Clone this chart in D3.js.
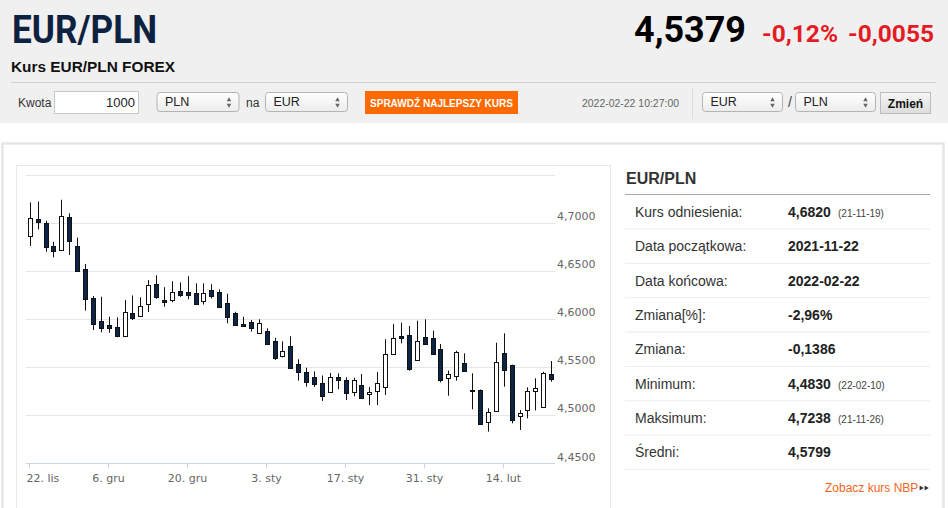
<!DOCTYPE html>
<html>
<head>
<meta charset="utf-8">
<script src="https://cdn.jsdelivr.net/npm/d3@7"></script>
<style>
  body { margin: 0; background: #fff; }
  svg { display: block; }
</style>
</head>
<body>
<svg id="page" width="948" height="508"></svg>
<script>
// trading days shown on the chart (EUR/PLN, daily candles)
const days = [
  '2021-11-22','2021-11-23','2021-11-24','2021-11-25','2021-11-26','2021-11-29','2021-11-30',
  '2021-12-01','2021-12-02','2021-12-03','2021-12-06','2021-12-07','2021-12-08','2021-12-09','2021-12-10',
  '2021-12-13','2021-12-14','2021-12-15','2021-12-16','2021-12-17','2021-12-20','2021-12-21','2021-12-22',
  '2021-12-23','2021-12-24','2021-12-27','2021-12-28','2021-12-29','2021-12-30','2021-12-31',
  '2022-01-03','2022-01-04','2022-01-05','2022-01-06','2022-01-07','2022-01-10','2022-01-11','2022-01-12',
  '2022-01-13','2022-01-14','2022-01-17','2022-01-18','2022-01-19','2022-01-20','2022-01-21','2022-01-24',
  '2022-01-25','2022-01-26','2022-01-27','2022-01-28','2022-01-31',
  '2022-02-01','2022-02-02','2022-02-03','2022-02-04','2022-02-07','2022-02-08','2022-02-09','2022-02-10',
  '2022-02-11','2022-02-14','2022-02-15','2022-02-16','2022-02-17','2022-02-18','2022-02-21','2022-02-22'
];

const opens = [
  4.6861,4.7035,4.6993,4.6761,4.6716,4.7056,4.6761,4.6516,4.6221,4.5979,
  4.5934,4.5913,4.5816,4.6059,4.6023,4.6152,4.6361,4.6195,4.6192,4.6288,
  4.6283,4.6273,4.6192,4.6301,4.6280,4.6163,4.6062,4.5951,4.5968,4.5857,
  4.5878,4.5766,4.5623,4.5719,4.5527,4.5446,4.5397,4.5338,4.5238,4.5395,
  4.5371,4.5245,4.5318,4.5218,4.5249,4.5290,4.5630,4.5826,4.5833,4.5574,
  4.5810,4.5799,4.5688,4.5384,4.5411,4.5539,4.5262,4.5265,4.4933,4.5040,
  4.5650,4.5522,4.4985,4.5054,4.5245,4.5089,4.5428
];
const highs = [
  4.7211,4.7220,4.7020,4.6802,4.7238,4.7097,4.6844,4.6571,4.6238,4.6231,
  4.6023,4.6017,4.6197,4.6244,4.6225,4.6404,4.6454,4.6330,4.6392,4.6379,
  4.6444,4.6370,4.6370,4.6361,4.6308,4.6262,4.6075,4.6023,4.5989,4.5996,
  4.5903,4.5804,4.5768,4.5820,4.5581,4.5493,4.5456,4.5413,4.5439,4.5436,
  4.5395,4.5390,4.5428,4.5293,4.5449,4.5789,4.5948,4.5961,4.5927,4.5982,
  4.5996,4.5878,4.5740,4.5463,4.5670,4.5643,4.5436,4.5268,4.5072,4.5753,
  4.5851,4.5525,4.5054,4.5290,4.5384,4.5452,4.5563
];
const lows = [
  4.6758,4.6931,4.6698,4.6640,4.6710,4.6664,4.6498,4.6086,4.5885,4.5861,
  4.5857,4.5810,4.5812,4.5989,4.6020,4.6072,4.6209,4.6127,4.6173,4.6228,
  4.6204,4.6158,4.6150,4.6212,4.6125,4.5955,4.5927,4.5926,4.5868,4.5855,
  4.5745,4.5574,4.5600,4.5488,4.5359,4.5296,4.5293,4.5148,4.5236,4.5270,
  4.5158,4.5197,4.5184,4.5106,4.5106,4.5210,4.5628,4.5747,4.5463,4.5572,
  4.5738,4.5634,4.5342,4.5203,4.5359,4.5450,4.5062,4.4899,4.4830,4.5037,
  4.5296,4.4916,4.4847,4.4968,4.5050,4.5087,4.5348
];
const closes = [
  4.7045,4.7004,4.6744,4.6709,4.7069,4.6802,4.6501,4.6207,4.5948,4.5903,
  4.5899,4.5816,4.6069,4.6007,4.6131,4.6349,4.6230,4.6178,4.6278,4.6251,
  4.6249,4.6160,4.6273,4.6240,4.6127,4.6017,4.5937,4.5930,4.5909,4.5961,
  4.5747,4.5591,4.5670,4.5493,4.5446,4.5347,4.5329,4.5205,4.5397,4.5366,
  4.5238,4.5371,4.5186,4.5241,4.5332,4.5633,4.5799,4.5810,4.5480,4.5774,
  4.5740,4.5636,4.5366,4.5425,4.5657,4.5452,4.5249,4.4916,4.5037,4.5550,
  4.5477,4.4951,4.5020,4.5252,4.5280,4.5442,4.5379
];

const tickDays = ['2021-11-22','2021-12-06','2021-12-20','2022-01-03','2022-01-17','2022-01-31','2022-02-14'];
const tickLabels = ['22. lis','6. gru','20. gru','3. sty','17. sty','31. sty','14. lut'];
const gridValues = [4.45, 4.50, 4.55, 4.60, 4.65, 4.70, 4.75];
const labelValues = [4.45, 4.50, 4.55, 4.60, 4.65, 4.70];

const statLabels = ['Kurs odniesienia:','Data początkowa:','Data końcowa:','Zmiana[%]:','Zmiana:','Minimum:','Maksimum:','Średni:'];
const statValues = ['4,6820','2021-11-22','2022-02-22','-2,96%','-0,1386','4,4830','4,7238','4,5799'];
const statDates = ['(21-11-19)','','','','','(22-02-10)','(21-11-26)',''];

const svg = d3.select('#page');
const sans = "'Liberation Sans', Arial, sans-serif";

// ---------- header ----------
svg.append('rect').attr('width', 948).attr('height', 123).attr('fill', '#f0f0f0');

svg.append('text').attr('x', 12).attr('y', 42.5)
  .attr('font-family', 'Roboto').attr('font-weight', 700).attr('font-size', 38)
  .attr('fill', '#0d2140').attr('textLength', 145).attr('lengthAdjust', 'spacingAndGlyphs')
  .text('EUR/PLN');

svg.append('text').attr('x', 11).attr('y', 72)
  .attr('font-family', sans).attr('font-weight', 'bold').attr('font-size', 14.5)
  .attr('fill', '#111').attr('textLength', 164).attr('lengthAdjust', 'spacingAndGlyphs')
  .text('Kurs EUR/PLN FOREX');

svg.append('text').attr('x', 746).attr('y', 42).attr('text-anchor', 'end')
  .attr('font-family', 'Roboto').attr('font-weight', 700).attr('font-size', 37)
  .attr('fill', '#000').attr('textLength', 112).attr('lengthAdjust', 'spacingAndGlyphs')
  .text('4,5379');
svg.append('text').attr('x', 838).attr('y', 42).attr('text-anchor', 'end')
  .attr('font-family', 'Roboto').attr('font-weight', 700).attr('font-size', 24.5)
  .attr('fill', '#e51b24').text('-0,12%');
svg.append('text').attr('x', 934).attr('y', 42).attr('text-anchor', 'end')
  .attr('font-family', 'Roboto').attr('font-weight', 700).attr('font-size', 24.5)
  .attr('fill', '#e51b24').text('-0,0055');

svg.append('line').attr('x1', 11).attr('x2', 936).attr('y1', 82.5).attr('y2', 82.5)
  .attr('stroke', '#d2d2d2');

// form row
const defs = svg.append('defs');
const selGrad = defs.append('linearGradient').attr('id', 'selGrad').attr('x1', 0).attr('x2', 0).attr('y1', 0).attr('y2', 1);
selGrad.append('stop').attr('offset', '0%').attr('stop-color', '#ffffff');
selGrad.append('stop').attr('offset', '100%').attr('stop-color', '#ececec');
const btnGrad = defs.append('linearGradient').attr('id', 'btnGrad').attr('x1', 0).attr('x2', 0).attr('y1', 0).attr('y2', 1);
btnGrad.append('stop').attr('offset', '0%').attr('stop-color', '#f7f7f7');
btnGrad.append('stop').attr('offset', '100%').attr('stop-color', '#dcdcdc');

const label = (x, y, txt, size, fill) => svg.append('text').attr('x', x).attr('y', y)
  .attr('font-family', sans).attr('font-size', size || 12).attr('fill', fill || '#333').text(txt);

const selectBox = (x, w, txt) => {
  const g = svg.append('g').attr('transform', `translate(${x},92.5)`);
  g.append('rect').attr('width', w).attr('height', 19).attr('rx', 3)
    .attr('fill', 'url(#selGrad)').attr('stroke', '#b4b4b4');
  g.append('text').attr('x', 8).attr('y', 13.5).attr('font-family', sans)
    .attr('font-size', 12.5).attr('fill', '#222').text(txt);
  g.append('path').attr('d', d3.symbol(d3.symbolTriangle, 9)())
    .attr('transform', `translate(${w - 10},7.5)`).attr('fill', '#666');
  g.append('path').attr('d', d3.symbol(d3.symbolTriangle, 9)())
    .attr('transform', `translate(${w - 10},12.5) rotate(180)`).attr('fill', '#666');
};

label(18, 106.5, 'Kwota');
svg.append('rect').attr('x', 54.5).attr('y', 91.5).attr('width', 84).attr('height', 22)
  .attr('fill', '#fff').attr('stroke', '#c8c8c8');
svg.append('text').attr('x', 135).attr('y', 107).attr('text-anchor', 'end')
  .attr('font-family', sans).attr('font-size', 13).attr('fill', '#222').text('1000');
selectBox(157, 82, 'PLN');
label(246, 106.5, 'na');
selectBox(265.5, 82, 'EUR');

svg.append('rect').attr('x', 365).attr('y', 91).attr('width', 153).attr('height', 23).attr('fill', '#ff6a00');
svg.append('text').attr('x', 441.5).attr('y', 106.5).attr('text-anchor', 'middle')
  .attr('font-family', sans).attr('font-weight', 'bold').attr('font-size', 10.5).attr('fill', '#fff')
  .attr('textLength', 143).attr('lengthAdjust', 'spacingAndGlyphs')
  .text('SPRAWDŹ NAJLEPSZY KURS');

svg.append('text').attr('x', 582).attr('y', 107)
  .attr('font-family', sans).attr('font-size', 10.5).attr('fill', '#666')
  .attr('textLength', 97).attr('lengthAdjust', 'spacingAndGlyphs')
  .text('2022-02-22 10:27:00');
svg.append('line').attr('x1', 692.5).attr('x2', 692.5).attr('y1', 88).attr('y2', 119).attr('stroke', '#dcdcdc');

selectBox(702.5, 80, 'EUR');
label(788, 107, '/', 14, '#444');
selectBox(795.5, 80, 'PLN');
svg.append('rect').attr('x', 880.5).attr('y', 92.5).attr('width', 50).attr('height', 21)
  .attr('fill', 'url(#btnGrad)').attr('stroke', '#bcbcbc');
svg.append('text').attr('x', 905.5).attr('y', 107.5).attr('text-anchor', 'middle')
  .attr('font-family', sans).attr('font-weight', 'bold').attr('font-size', 12).attr('fill', '#111')
  .text('Zmień');

// ---------- panel ----------
svg.append('rect').attr('x', 2.5).attr('y', 143.5).attr('width', 941).attr('height', 380)
  .attr('fill', '#fff').attr('stroke', '#e6e6e6').attr('stroke-width', 2.5);
svg.append('rect').attr('x', 16.5).attr('y', 165.5).attr('width', 594).attr('height', 360)
  .attr('fill', 'none').attr('stroke', '#e9e9e9');

// ---------- candlestick chart ----------
const plotLeft = 25.75, plotRight = 555.05;
const x = d3.scaleBand().domain(days).range([plotLeft, plotRight]).paddingInner(0).paddingOuter(0);
const y = d3.scaleLinear().domain([4.45, 4.75]).range([463.4, 174.5]);
const cx = d => Math.round(x(d) + x.bandwidth() / 2);

const chart = svg.append('g');

chart.append('g').selectAll('line').data(gridValues).join('line')
  .attr('x1', plotLeft).attr('x2', plotRight)
  .attr('y1', d => Math.round(y(d)) + 0.5).attr('y2', d => Math.round(y(d)) + 0.5)
  .attr('stroke', '#e6e6e6');

const yAxis = chart.append('g').attr('transform', `translate(${plotRight},0)`)
  .call(d3.axisRight(y).tickValues(labelValues).tickSize(0).tickPadding(2)
    .tickFormat(d => d3.format('.4f')(d).replace('.', ',')));
yAxis.select('.domain').remove();
yAxis.selectAll('text').attr('dy', '-0.3em')
  .attr('font-family', 'DejaVu Sans').attr('font-size', 11).attr('fill', '#666');

const xAxis = chart.append('g').attr('transform', `translate(0,${Math.round(y(4.45)) + 0.5})`)
  .call(d3.axisBottom(x).tickValues(tickDays).tickSize(5).tickPadding(6)
    .tickFormat(d => tickLabels[tickDays.indexOf(d)]));
xAxis.select('.domain').attr('stroke', '#ccd6eb').attr('d', `M${plotLeft},0H${plotRight}`);
xAxis.selectAll('.tick line').attr('stroke', '#ccd6eb');
xAxis.selectAll('.tick').attr('transform', d => `translate(${cx(d) - 0.5},0)`);
xAxis.selectAll('text').attr('font-family', 'DejaVu Sans').attr('font-size', 11).attr('fill', '#666')
  .attr('text-anchor', (d, i) => i === 0 ? 'start' : 'middle')
  .attr('x', (d, i) => i === 0 ? -3 : 0);

const candles = chart.append('g').selectAll('g').data(days).join('g');
candles.append('line')
  .attr('x1', d => cx(d) + 0.5).attr('x2', d => cx(d) + 0.5)
  .attr('y1', (d, i) => y(highs[i])).attr('y2', (d, i) => y(lows[i]))
  .attr('stroke', '#111').attr('stroke-width', 1);
candles.append('rect')
  .attr('x', d => cx(d) - 1.5)
  .attr('width', 4)
  .attr('y', (d, i) => Math.round(y(Math.max(opens[i], closes[i]))) + 0.5)
  .attr('height', (d, i) => Math.max(1, Math.round(Math.abs(y(opens[i]) - y(closes[i])))))
  .attr('fill', (d, i) => closes[i] >= opens[i] ? '#fff' : '#0c2445')
  .attr('stroke', '#111').attr('stroke-width', 1);

// ---------- statistics table ----------
svg.append('text').attr('x', 626).attr('y', 183.5)
  .attr('font-family', sans).attr('font-weight', 'bold').attr('font-size', 16).attr('fill', '#333')
  .text('EUR/PLN');
svg.append('line').attr('x1', 625).attr('x2', 930).attr('y1', 194.5).attr('y2', 194.5).attr('stroke', '#a8a8a8');

const rowH = 34.35;
const rows = svg.append('g').selectAll('g').data(statLabels).join('g')
  .attr('transform', (d, i) => `translate(0,${194.5 + i * rowH})`);
rows.append('line').attr('x1', 625).attr('x2', 930)
  .attr('y1', Math.round(rowH) + 0.5).attr('y2', Math.round(rowH) + 0.5).attr('stroke', '#ececec');
rows.append('text').attr('x', 635).attr('y', 22.5)
  .attr('font-family', sans).attr('font-size', 14).attr('fill', '#333').text(d => d);
rows.append('text').attr('x', 788).attr('y', 22.5)
  .attr('font-family', sans).attr('font-weight', 'bold').attr('font-size', 14).attr('fill', '#222')
  .text((d, i) => statValues[i]);
rows.append('text').attr('x', 838).attr('y', 22.5)
  .attr('font-family', sans).attr('font-size', 10).attr('fill', '#444')
  .text((d, i) => statDates[i]);

svg.append('text').attr('x', 825).attr('y', 492)
  .attr('font-family', sans).attr('font-size', 12).attr('fill', '#f26522')
  .text('Zobacz kurs NBP');
[921, 926].forEach(px => {
  svg.append('path').attr('d', d3.symbol(d3.symbolTriangle, 10)())
    .attr('transform', `translate(${px},488) rotate(90)`).attr('fill', '#333');
});
</script>
</body>
</html>
